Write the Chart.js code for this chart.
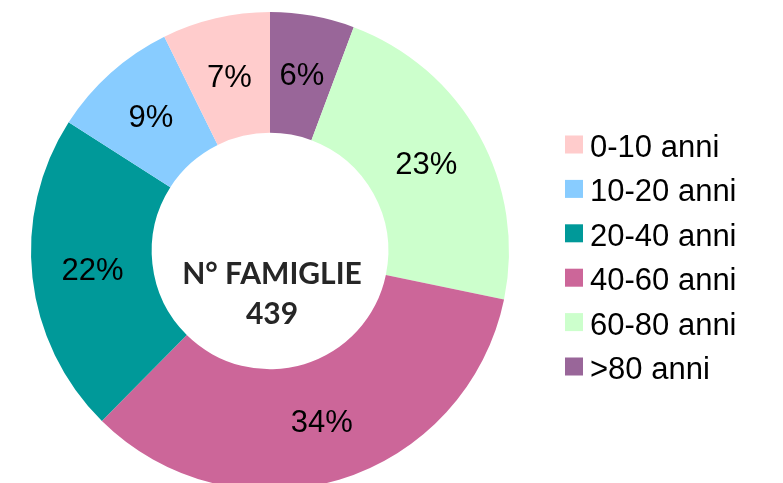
<!DOCTYPE html>
<html>
<head>
<meta charset="utf-8">
<script src="https://cdn.jsdelivr.net/npm/chart.js@4"></script>
<style>
html,body{margin:0;padding:0;background:#fff;overflow:hidden;width:783px;height:483px;}
</style>
</head>
<body>
<canvas id="c" width="783" height="497"></canvas>
<script>
// Data in legend order
const categories = ['0-10 anni', '10-20 anni', '20-40 anni', '40-60 anni', '60-80 anni', '>80 anni'];
const counts = [32, 38, 95, 150, 99, 25];
const pctLabels = ['7%', '9%', '22%', '34%', '23%', '6%'];
const colors = ['#FFCCCC', '#88CCFF', '#009999', '#CC6699', '#CCFFCC', '#996699'];
const centerTitle = 'N° FAMIGLIE';
const centerValue = '439';

// Slices run counter-clockwise from the top in the reference: feed Chart.js reversed order
const rev = a => a.slice().reverse();

const labelPlugin = {
  id: 'sliceLabels',
  afterDatasetsDraw(chart) {
    const ctx = chart.ctx;
    const meta = chart.getDatasetMeta(0);
    const lbls = chart.data.datasets[0].pctLabels;
    ctx.save();
    ctx.font = '31px "Liberation Sans", Arial, sans-serif';
    ctx.fillStyle = '#000';
    ctx.textAlign = 'center';
    ctx.textBaseline = 'middle';
    meta.data.forEach((arc, i) => {
      const p = arc.getCenterPoint();
      ctx.fillText(lbls[i], p.x, p.y + 1);
    });
    // centre text
    const a0 = meta.data[0];
    ctx.font = 'bold 30px Lato, "Open Sans", sans-serif';
    ctx.fillStyle = '#262626';
    ctx.textBaseline = 'alphabetic';
    ctx.fillText(centerTitle, a0.x + 2, a0.y + 33);
    ctx.fillText(centerValue, a0.x + 2, a0.y + 73);
    ctx.restore();
  }
};

const legendPlugin = {
  id: 'rightLegend',
  afterDraw(chart) {
    const ctx = chart.ctx;
    ctx.save();
    ctx.font = '31px "Liberation Sans", Arial, sans-serif';
    ctx.textAlign = 'left';
    ctx.textBaseline = 'alphabetic';
    categories.forEach((c, i) => {
      const cy = 144.5 + i * 44.4;
      ctx.fillStyle = colors[i];
      ctx.fillRect(565, cy - 9, 18, 18);
      ctx.fillStyle = '#000';
      ctx.fillText(c, 590, cy + 12.5);
    });
    ctx.restore();
  }
};

new Chart(document.getElementById('c'), {
  type: 'doughnut',
  data: {
    labels: rev(categories),
    datasets: [{
      data: rev(counts),
      pctLabels: rev(pctLabels),
      backgroundColor: rev(colors),
      borderWidth: 0,
      hoverOffset: 0
    }]
  },
  options: {
    responsive: false,
    animation: false,
    cutout: '49.5%',
    layout: { padding: { left: 31, right: 274, top: 12, bottom: 7 } },
    plugins: {
      legend: { display: false },
      tooltip: { enabled: false }
    }
  },
  plugins: [labelPlugin, legendPlugin]
});
</script>
</body>
</html>
